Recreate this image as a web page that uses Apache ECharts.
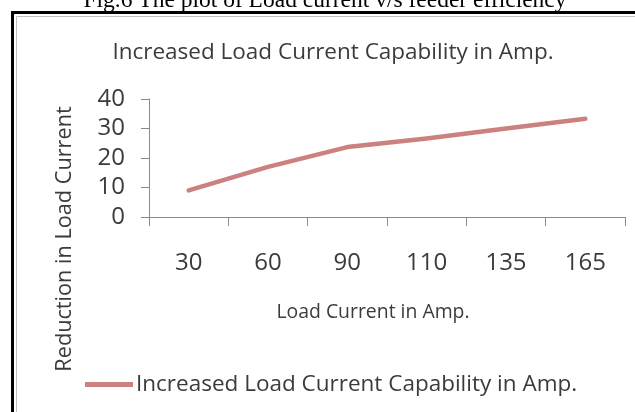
<!DOCTYPE html>
<html>
<head>
<meta charset="utf-8">
<script src="https://cdn.jsdelivr.net/npm/echarts@6/dist/echarts.min.js"></script>
<style>
html,body{margin:0;padding:0;background:#fff;}
#c{width:635px;height:412px;}
</style>
</head>
<body>
<div id="c"></div>
<script>
var categories = ['30', '60', '90', '110', '135', '165'];
var capability = [9, 17, 23.7, 26.6, 30, 33.3];
var seriesName = 'Increased Load Current Capability in Amp.';
var chartTitle = 'Increased Load Current Capability in Amp.';
var xName = 'Load Current in Amp.';
var yName = 'Reduction in Load Current';
var caption = 'Fig.6 The plot of Load current v/s feeder efficiency';

var FONT = '"Open Sans"';
var TXT = '#3b3b3b';
var LINE = '#ca8180';
var chart = echarts.init(document.getElementById('c'), null, {renderer: 'canvas'});
chart.setOption({
  backgroundColor: '#ffffff',
  animation: false,
  title: {
    text: chartTitle,
    left: 333, top: 41, textAlign: 'center', padding: 0,
    textStyle: {fontFamily: FONT, fontSize: 22.5, fontWeight: 'normal', color: TXT}
  },
  legend: {
    left: 85, top: 373, padding: 0,
    itemWidth: 48, itemHeight: 5, itemGap: 0,
    icon: 'rect',
    textStyle: {fontFamily: FONT, fontSize: 22.5, color: TXT, padding: [0, 0, 0, -2]},
    data: [seriesName]
  },
  grid: {left: 149, right: 10, top: 99, bottom: 195, containLabel: false},
  xAxis: {
    type: 'category',
    data: categories,
    boundaryGap: true,
    axisLine: {lineStyle: {color: '#8a8a8a', width: 1}},
    axisTick: {show: true, length: 9, lineStyle: {color: '#8a8a8a'}},
    axisLabel: {fontFamily: FONT, fontSize: 24, color: TXT, margin: 34}
  },
  yAxis: {
    type: 'value',
    min: 0, max: 40, interval: 10,
    splitLine: {show: false},
    axisLine: {show: true, lineStyle: {color: '#8a8a8a', width: 1}},
    axisTick: {show: true, length: 8, lineStyle: {color: '#8a8a8a'}},
    axisLabel: {fontFamily: FONT, fontSize: 24, color: TXT, margin: 24}
  },
  graphic: [
    {type: 'text', z: 100, x: 325, y: 1, style: {text: caption, font: '23.5px "Liberation Serif"', fill: '#000', align: 'center', verticalAlign: 'middle'}},
    {type: 'polyline', z: 100, shape: {points: [[12.5, 412], [12.5, 12.5], [635, 12.5]]}, style: {stroke: '#000', lineWidth: 3, fill: null}},
    {type: 'polyline', z: 100, shape: {points: [[16.5, 412], [16.5, 16.5], [635, 16.5]]}, style: {stroke: '#c0c0c0', lineWidth: 1, fill: null}},
    {type: 'text', z: 100, x: 65, y: 239, rotation: Math.PI / 2, style: {text: yName, font: '21.7px "Open Sans"', fill: TXT, align: 'center', verticalAlign: 'middle'}},
    {type: 'text', z: 100, x: 373, y: 312, style: {text: xName, font: '19.4px "Open Sans"', fill: TXT, align: 'center', verticalAlign: 'middle'}}
  ],
  series: [{
    name: seriesName,
    type: 'line',
    data: capability,
    symbol: 'none',
    lineStyle: {color: LINE, width: 4.5, cap: 'round', join: 'round'},
    itemStyle: {color: LINE}
  }]
});
</script>
</body>
</html>
